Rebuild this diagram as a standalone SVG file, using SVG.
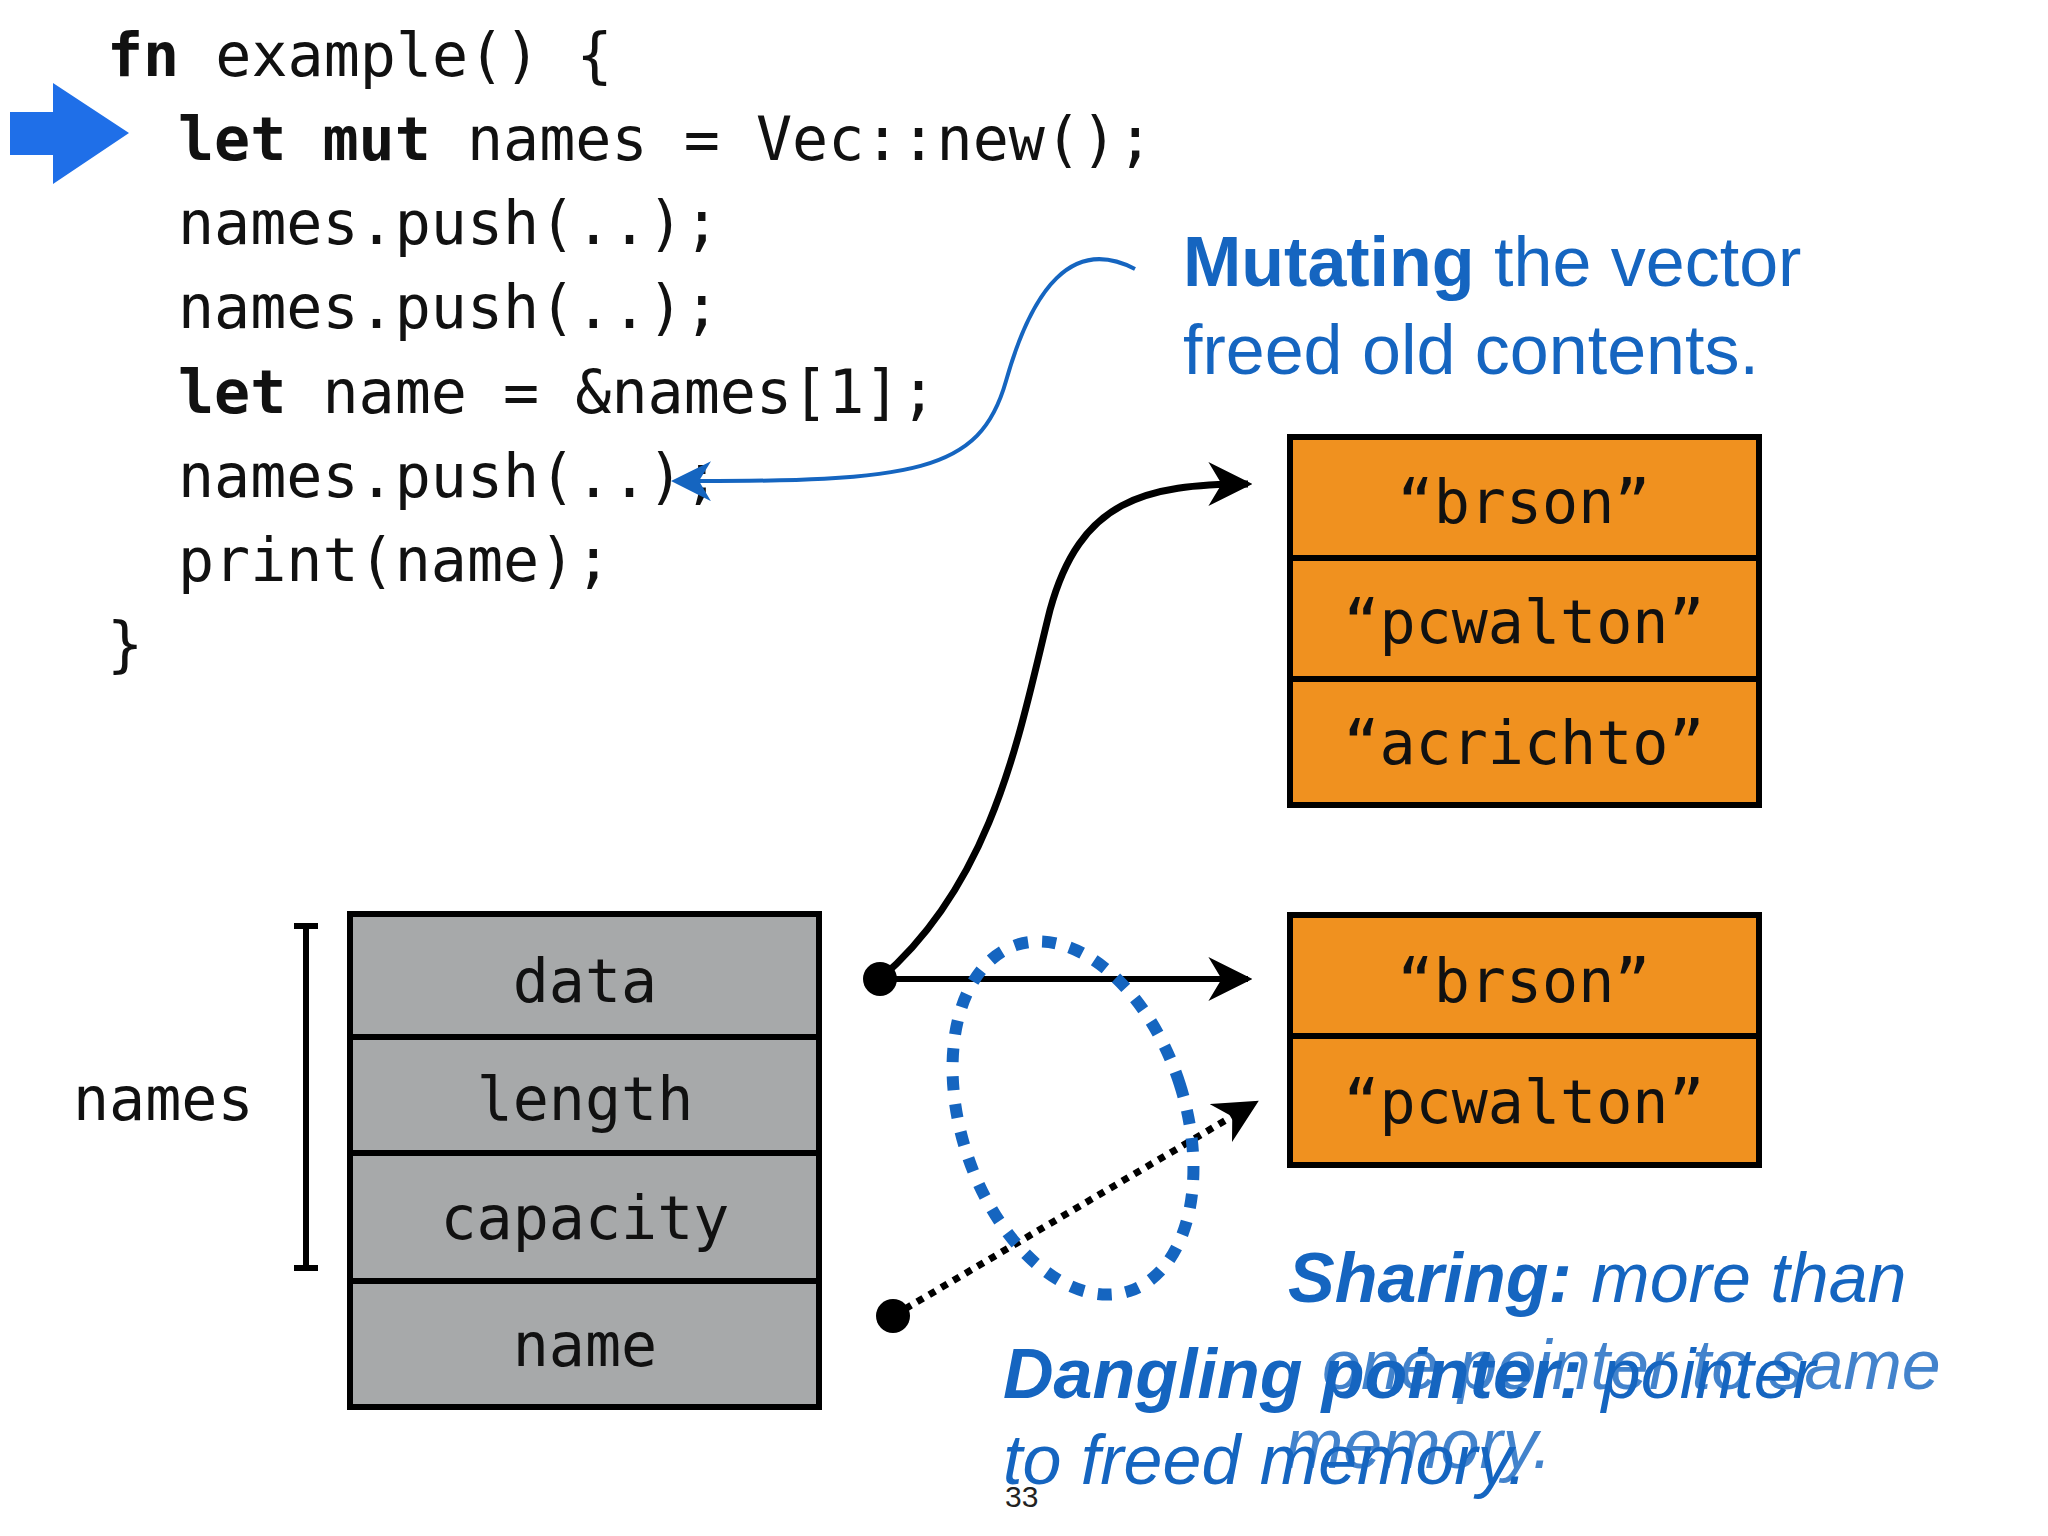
<svg xmlns="http://www.w3.org/2000/svg" width="2048" height="1536" viewBox="0 0 2048 1536">
<style>
.code{font-family:"DejaVu Sans Mono","Liberation Mono",monospace;font-size:60px;fill:#111}
.b{font-weight:bold}
.box{stroke:#000;stroke-width:6}
.or{fill:#f0911f}
.gr{fill:#a7a9aa}
.bt{font-family:"DejaVu Sans Mono","Liberation Mono",monospace;font-size:60px;fill:#111;text-anchor:middle}
.note{font-family:"Liberation Sans","Noto Sans",sans-serif;font-size:70px;fill:#1565c0}
</style>
<defs>
<marker id="bh" viewBox="0 0 10 10" refX="9" refY="5" markerWidth="40" markerHeight="40" orient="auto" markerUnits="userSpaceOnUse"><path d="M0,0 L10,5 L0,10 L3,5 z" fill="#1565c0"/></marker>
<marker id="ak" viewBox="0 0 10 10" refX="9" refY="5" markerWidth="44" markerHeight="44" orient="auto" markerUnits="userSpaceOnUse"><path d="M0,0 L10,5 L0,10 L3,5 z" fill="#000"/></marker>
</defs>
<rect width="2048" height="1536" fill="#fff"/>
<g id="code">
<text class="code" x="107" y="76"><tspan class="b">fn</tspan> example() {</text>
<text class="code" x="178" y="160"><tspan class="b">let mut</tspan> names = Vec::new();</text>
<text class="code" x="178" y="244">names.push(..);</text>
<text class="code" x="178" y="328">names.push(..);</text>
<text class="code" x="178" y="413"><tspan class="b">let</tspan> name = &amp;names[1];</text>
<text class="code" x="178" y="497">names.push(..);</text>
<text class="code" x="178" y="581">print(name);</text>
<text class="code" x="107" y="665">}</text>
</g>
<g id="pc-arrow"><path d="M10,112 H53 V83 L129,133 L53,184 V155 H10 z" fill="#1f6fe8"/></g>
<g id="old-vec">
<rect class="box or" x="1290" y="437" width="469" height="121"/>
<rect class="box or" x="1290" y="558" width="469" height="121"/>
<rect class="box or" x="1290" y="679" width="469" height="126"/>
<text class="bt" x="1524" y="523">“brson”</text>
<text class="bt" x="1524" y="643">“pcwalton”</text>
<text class="bt" x="1524" y="764">“acrichto”</text>
</g>
<g id="new-vec">
<rect class="box or" x="1290" y="915" width="469" height="121"/>
<rect class="box or" x="1290" y="1036" width="469" height="129"/>
<text class="bt" x="1524" y="1002">“brson”</text>
<text class="bt" x="1524" y="1123">“pcwalton”</text>
</g>
<g id="names-struct">
<rect class="box gr" x="350" y="914" width="469" height="123"/>
<rect class="box gr" x="350" y="1037" width="469" height="116"/>
<rect class="box gr" x="350" y="1153" width="469" height="128"/>
<rect class="box gr" x="350" y="1281" width="469" height="126"/>
<text class="bt" x="585" y="1002">data</text>
<text class="bt" x="585" y="1120">length</text>
<text class="bt" x="585" y="1239">capacity</text>
<text class="bt" x="585" y="1366">name</text>
</g>
<g id="names-label">
<path d="M294,926 H318 M306,926 V1268 M294,1268 H318" stroke="#000" stroke-width="6" fill="none"/>
<text class="code" x="73" y="1120">names</text>
</g>
<g id="connectors" fill="none">
<circle cx="880" cy="979" r="17" fill="#000"/>
<path d="M880,979 C995,880 1020,730 1050,610 C1080,500 1145,484 1248,484" stroke="#000" stroke-width="7" marker-end="url(#ak)"/>
<path d="M880,979 H1248" stroke="#000" stroke-width="6" marker-end="url(#ak)"/>
<circle cx="893" cy="1316" r="17" fill="#000"/>
<path d="M893,1316 L1255,1103" stroke="#000" stroke-width="7" stroke-dasharray="7,7" marker-end="url(#ak)"/>
<ellipse cx="1073" cy="1118" rx="112" ry="182" transform="rotate(-18 1073 1118)" stroke="#1565c0" stroke-width="12" stroke-dasharray="14,14"/>
<path d="M1135,269 C1072,236 1032,289 1006,381 C980,473 915,482 675,481" stroke="#1565c0" stroke-width="4" marker-end="url(#bh)"/>
</g>
<g id="notes">
<text class="note" x="1183" y="286"><tspan font-weight="bold">Mutating</tspan> the vector</text>
<text class="note" x="1183" y="374">freed old contents.</text>
<text class="note" x="1288" y="1302" font-style="italic"><tspan font-weight="bold">Sharing:</tspan> more than</text>
<text class="note" x="1322" y="1389" font-style="italic" opacity="0.8">one pointer to same</text>
<text class="note" x="1285" y="1468" font-style="italic" opacity="0.8">memory.</text>
<text class="note" x="1003" y="1398" font-style="italic"><tspan font-weight="bold">Dangling pointer:</tspan> pointer</text>
<text class="note" x="1003" y="1484" font-style="italic">to freed memory.</text>
<text x="1005" y="1507" font-family="Liberation Sans,sans-serif" font-size="30" fill="#222">33</text>
</g>
</svg>
